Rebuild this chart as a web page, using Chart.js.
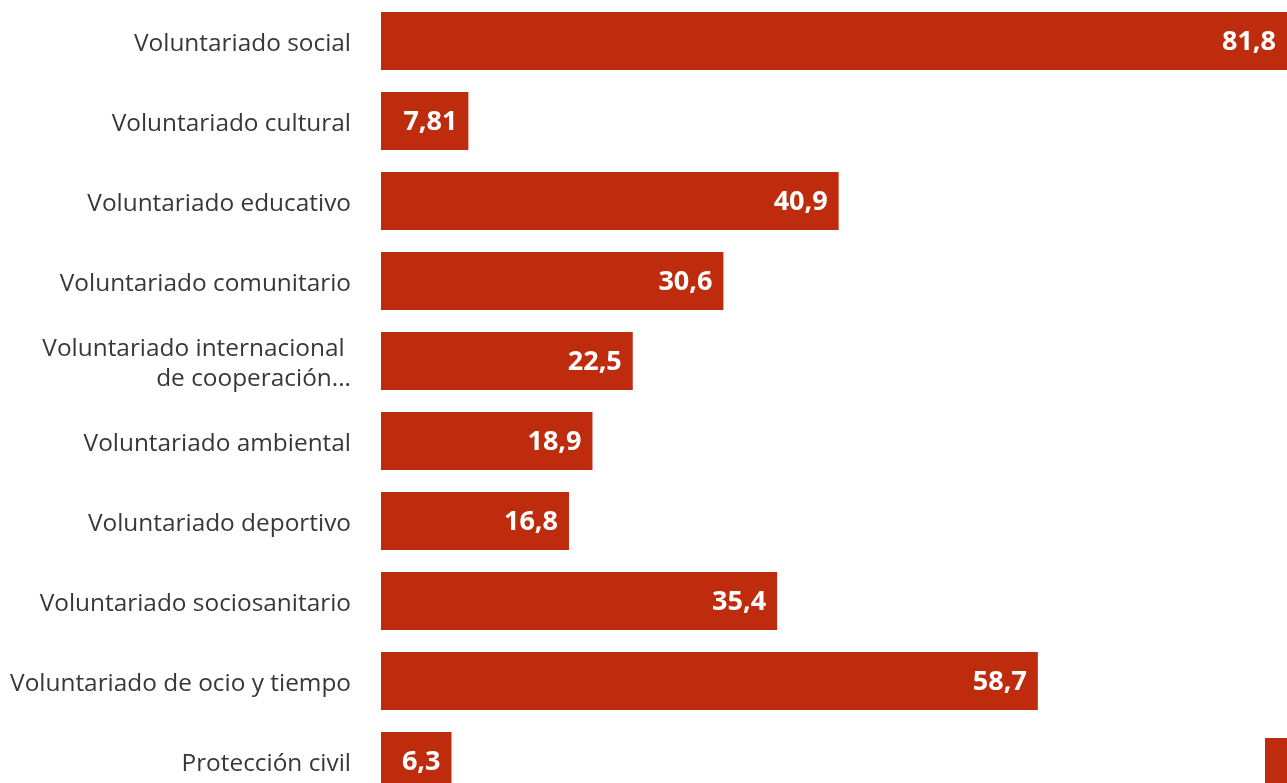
<!DOCTYPE html>
<html lang="es">
<head>
<meta charset="utf-8">
<script src="https://cdn.jsdelivr.net/npm/chart.js@4"></script>
<style>
    html, body { margin: 0; padding: 0; background: #fff; overflow: hidden; }
    #volChart { position: absolute; left: 0; top: 0; }
    .swatch { position: absolute; left: 1265px; top: 738px; width: 30px; height: 50px; background: #bf2b0d; }
</style>
</head>
<body>
<canvas id="volChart" width="1300" height="802"></canvas>
<div class="swatch"></div>
<script>
// Tipos de voluntariado (%)
const categories = [
    'Voluntariado social',
    'Voluntariado cultural',
    'Voluntariado educativo',
    'Voluntariado comunitario',
    ['Voluntariado internacional ', 'de cooperación...'],
    'Voluntariado ambiental',
    'Voluntariado deportivo',
    'Voluntariado sociosanitario',
    'Voluntariado de ocio y tiempo',
    'Protección civil'
];
const values = [81.8, 7.81, 40.9, 30.6, 22.5, 18.9, 16.8, 35.4, 58.7, 6.3];

const barColor = '#bf2b0d';

// white value labels inside the end of each bar
const valueLabels = {
    id: 'valueLabels',
    afterDatasetsDraw(chart) {
        const { ctx } = chart;
        const meta = chart.getDatasetMeta(0);
        ctx.save();
        ctx.font = 'bold 27px "Open Sans"';
        ctx.fillStyle = '#fff';
        ctx.textAlign = 'right';
        ctx.textBaseline = 'middle';
        meta.data.forEach((bar, i) => {
            const x = Math.min(bar.x, 1287) - 11;
            ctx.fillText(String(values[i]).replace('.', ','), x, bar.y + 1);
        });
        ctx.restore();
    }
};

const ctx = document.getElementById('volChart').getContext('2d');
new Chart(ctx, {
    type: 'bar',
    data: {
        labels: categories,
        datasets: [{
            data: values,
            backgroundColor: barColor,
            borderWidth: 0,
            categoryPercentage: 1,
            barPercentage: 0.725
        }]
    },
    options: {
        indexAxis: 'y',
        responsive: false,
        animation: false,
        layout: { padding: { top: 1, bottom: 1, left: 0, right: 0 } },
        plugins: { legend: { display: false }, tooltip: { enabled: false } },
        scales: {
            x: { display: false, min: 0, max: 82.13 },
            y: {
                grid: { display: false, drawTicks: false },
                border: { display: false },
                ticks: {
                    color: '#383838',
                    padding: 30,
                    labelOffset: 3,
                    font: { family: 'Open Sans', size: 24.4 }
                },
                afterFit(scale) {
                    scale.width = 381;
                    // labels sit beside the bars, no extra room above or below
                    scale.paddingTop = 0;
                    scale.paddingBottom = 0;
                }
            }
        }
    },
    plugins: [valueLabels]
});
</script>
</body>
</html>
